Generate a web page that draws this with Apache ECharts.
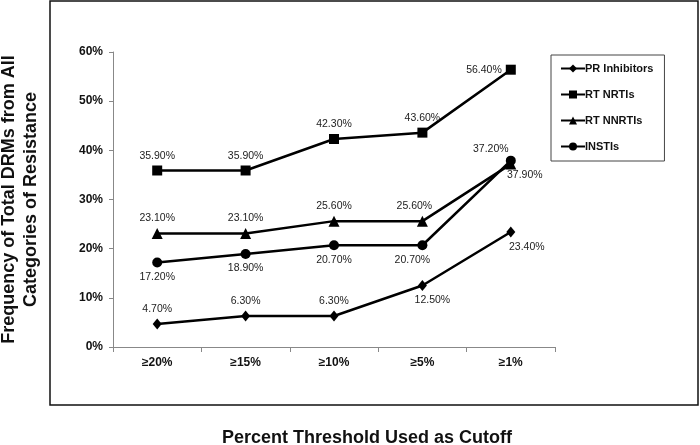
<!DOCTYPE html>
<html>
<head>
<meta charset="utf-8">
<script src="https://cdn.jsdelivr.net/npm/echarts@6/dist/echarts.min.js"></script>
<style>
  html, body { margin: 0; padding: 0; background: #fff; }
  #chart { width: 700px; height: 445px; }
</style>
</head>
<body>
<div id="chart"></div>
<script>
// data
const categories = ['≥20%', '≥15%', '≥10%', '≥5%', '≥1%'];
const seriesNames = ['PR Inhibitors', 'RT NRTIs', 'RT NNRTIs', 'INSTIs'];
const prInhibitors = [4.7, 6.3, 6.3, 12.5, 23.4];
const rtNrtis = [35.9, 35.9, 42.3, 43.6, 56.4];
const rtNnrtis = [23.1, 23.1, 25.6, 25.6, 37.2];
const instis = [17.2, 18.9, 20.7, 20.7, 37.9];
const yTicks = [0, 10, 20, 30, 40, 50, 60];

// where each value label sits
const labelPos = [
  ['top', 'top', 'top', 'bottom', 'bottom'],
  ['top', 'top', 'top', 'top', 'left'],
  ['top', 'top', 'top', 'top', 'top'],
  ['bottom', 'bottom', 'bottom', 'bottom', 'bottom']
];
const labelShift = [
  [0, 0, 0, 10, 16],
  [0, 0, 0, 0, 0],
  [0, 0, 0, -8, -20],
  [0, 0, 0, -10, 14]
];
const symbols = ['diamond', 'rect', 'triangle', 'circle'];
const symbolSizes = [[9, 11], 10, 11, 10];

const myChart = echarts.init(document.getElementById('chart'));

function buildData(values, idx) {
  return values.map((v, i) => ({
    value: v,
    label: {
      position: labelPos[idx][i],
      offset: [labelShift[idx][i], 0]
    }
  }));
}

const allValues = [prInhibitors, rtNrtis, rtNnrtis, instis];

const option = {
  animation: false,
  backgroundColor: '#fff',
  textStyle: { fontFamily: 'Arial, "Liberation Sans", sans-serif' },
  graphic: [
    {
      type: 'rect',
      shape: { x: 50, y: 1, width: 648, height: 404 },
      style: { fill: 'none', stroke: '#111', lineWidth: 1.5 },
      z: -1
    },
    {
      type: 'text',
      style: {
        text: 'Percent Threshold Used as Cutoff',
        x: 367, y: 438,
        align: 'center', verticalAlign: 'middle',
        font: 'bold 18px Arial, "Liberation Sans", sans-serif',
        fill: '#111'
      }
    }
  ],
  grid: {
    left: 113,
    right: 145,
    top: 52,
    bottom: 98,
    outerBoundsMode: 'none'
  },
  legend: {
    orient: 'vertical',
    left: 551,
    top: 55,
    padding: [8, 11, 9, 9],
    itemGap: 15,
    itemWidth: 24,
    itemHeight: 10,
    borderColor: '#444',
    borderWidth: 1,
    data: seriesNames,
    textStyle: {
      fontWeight: 'bold',
      fontSize: 11,
      color: '#111',
      padding: [0, 0, 0, -5]
    }
  },
  xAxis: {
    type: 'category',
    data: categories,
    boundaryGap: true,
    axisLine: { lineStyle: { color: '#888', width: 1 } },
    axisTick: { show: true, alignWithLabel: false, length: 5, lineStyle: { color: '#888' } },
    axisLabel: {
      fontWeight: 'bold',
      fontSize: 12,
      color: '#111',
      margin: 10
    }
  },
  yAxis: {
    type: 'value',
    min: 0,
    max: 60,
    interval: 10,
    name: 'Frequency of Total DRMs from All\nCategories of Resistance',
    nameLocation: 'middle',
    nameRotate: 90,
    nameGap: 71,
    nameTextStyle: {
      fontWeight: 'bold',
      fontSize: 18,
      color: '#111',
      lineHeight: 22
    },
    axisLine: { show: true, lineStyle: { color: '#888', width: 1 } },
    axisTick: { show: true, length: 4, lineStyle: { color: '#888' } },
    splitLine: { show: false },
    axisLabel: {
      fontWeight: 'bold',
      fontSize: 12,
      color: '#111',
      margin: 10,
      formatter: v => yTicks.includes(v) ? v + '%' : ''
    }
  },
  series: seriesNames.map((name, idx) => ({
    name: name,
    type: 'line',
    data: buildData(allValues[idx], idx),
    symbol: symbols[idx],
    symbolSize: symbolSizes[idx],
    showAllSymbol: true,
    lineStyle: { color: '#000', width: 2.5 },
    itemStyle: { color: '#000' },
    label: {
      show: true,
      fontSize: 10.5,
      color: '#222',
      distance: 4,
      formatter: p => p.value.toFixed(2) + '%'
    }
  }))
};

myChart.setOption(option);
</script>
</body>
</html>
